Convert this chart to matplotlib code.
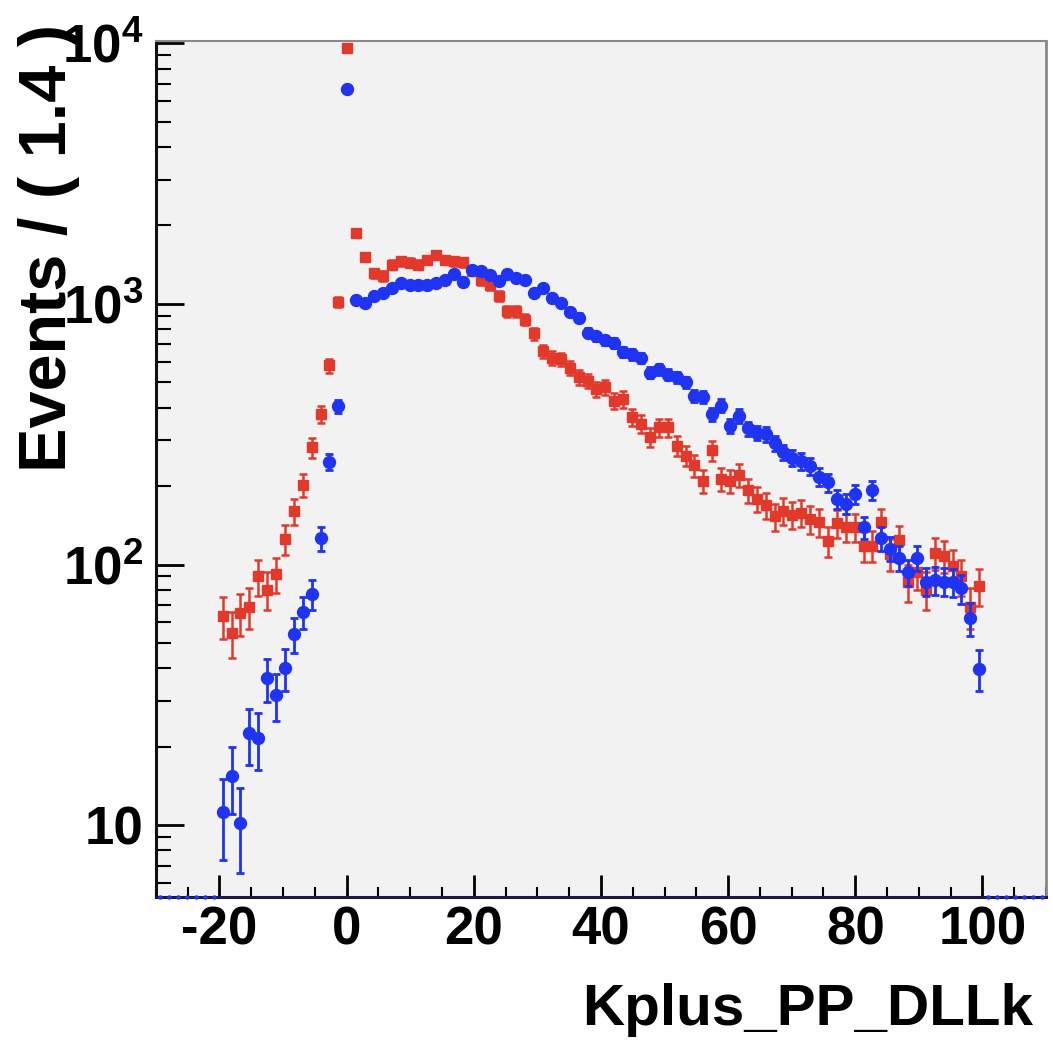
import numpy as np
import matplotlib
matplotlib.use("Agg")
import matplotlib.pyplot as plt
from matplotlib.ticker import FixedLocator, FixedFormatter, LogLocator, NullFormatter, MultipleLocator

plt.rcParams['font.family'] = ['Liberation Sans', 'DejaVu Sans']
plt.rcParams['font.weight'] = 'bold'
plt.rcParams['axes.unicode_minus'] = False
plt.rcParams['mathtext.fontset'] = 'custom'
plt.rcParams['mathtext.rm'] = 'Liberation Sans:bold'
plt.rcParams['mathtext.it'] = 'Liberation Sans:bold'
plt.rcParams['mathtext.bf'] = 'Liberation Sans:bold'

# binning: 100 bins of width 1.4 from -30 to 110
x_lo, x_hi, n_bins = -30.0, 110.0, 100
first_filled_bin = 7

red_counts = [63.5, 54.7, 65, 69, 90, 80, 92, 125, 160, 202, 282, 378, 581, 1018,
              9600, 1866, 1512, 1313, 1282, 1413, 1455, 1440, 1413, 1476, 1542, 1476,
              1455, 1445, 1340, 1238, 1185, 1076, 937, 937, 871, 770, 659, 622, 613,
              570, 522, 507, 471, 478, 425, 431, 367, 346, 309, 336, 336, 286, 262,
              240, 210, 274, 213, 210, 220, 193, 179, 169, 153, 161, 155, 158, 149,
              145, 123, 144, 139, 139, 118, 118, 145, 110, 124, 85.5, 94, 80, 111,
              108, 99, 90, 69, 83]

blue_counts = [11.2, 15.5, 10.2, 22.5, 21.6, 36.6, 31.6, 40, 54, 66, 77, 126, 248, 404,
               6670, 1038, 1009, 1069, 1101, 1151, 1203, 1185, 1185, 1185, 1203, 1238,
               1305, 1212, 1352, 1332, 1294, 1227, 1305, 1257, 1238, 1101, 1151, 1054,
               1009, 931, 885, 775, 752, 724, 710, 655, 640, 622, 545, 561, 535, 522,
               501, 443, 441, 378, 407, 341, 372, 333, 320, 316, 293, 270, 257, 249,
               238, 217, 207, 178, 171, 187, 139, 193, 126, 115, 106, 93.5, 106, 86,
               87, 86, 85.6, 81, 62.4, 39.8]

red_weight = 2.2   # effective event weight used for error bars
blue_weight = 1.3

x_ticks = [-20, 0, 20, 40, 60, 80, 100]
y_ticks = [10, 100, 1000, 10000]
y_tick_labels = ['10', r'$10^{2}$', r'$10^{3}$', r'$10^{4}$']
x_title = 'Kplus_PP_DLLk'
y_title = 'Events / ( 1.4 )'

red_color = '#e3392b'
blue_color = '#1f33f2'

width = (x_hi - x_lo) / n_bins
centers = x_lo + width * (np.arange(n_bins) + 0.5)

red = np.array(red_counts, dtype=float)
blue = np.array(blue_counts, dtype=float)
xr = centers[first_filled_bin:first_filled_bin + len(red)]
xb = centers[first_filled_bin:first_filled_bin + len(blue)]
filled = np.zeros(n_bins, bool)
filled[first_filled_bin:first_filled_bin + len(blue)] = True
x_empty = centers[~filled]

fig = plt.figure(figsize=(10.53, 10.46), dpi=100)
ax = fig.add_axes([0.148, 0.1424, 0.8454, 0.8184])
ax.set_facecolor('#f2f2f2')
ax.set_yscale('log')
ymin, ymax = 5.3, 10200
ax.set_xlim(x_lo, x_hi)
ax.set_ylim(ymin, ymax)

ax.errorbar(xr, red, yerr=np.sqrt(red_weight * red), fmt='s', ms=7.6,
            color=red_color, ecolor=red_color, elinewidth=1.8, capsize=2.6,
            capthick=1.8, zorder=3)
ax.errorbar(xb, blue, yerr=np.sqrt(blue_weight * blue), fmt='o', ms=8.6,
            color=blue_color, ecolor=blue_color, elinewidth=2.0, capsize=2.8,
            capthick=2.0, zorder=4)
ax.plot(x_empty, np.full(len(x_empty), ymin), linestyle='none', marker='o', ms=2.2,
        color=blue_color, clip_on=False, zorder=5)

ax.xaxis.set_major_locator(FixedLocator(x_ticks))
ax.xaxis.set_minor_locator(MultipleLocator(5))
ax.yaxis.set_major_locator(FixedLocator(y_ticks))
ax.yaxis.set_major_formatter(FixedFormatter(y_tick_labels))
ax.yaxis.set_minor_locator(LogLocator(base=10, subs=np.arange(2, 10)))
ax.yaxis.set_minor_formatter(NullFormatter())

ax.tick_params(axis='x', which='major', direction='in', length=16, width=2,
               labelsize=38, pad=6, top=False)
ax.tick_params(axis='x', which='minor', direction='in', length=7, width=1.5, top=False)
ax.tick_params(axis='y', which='major', direction='in', length=20, width=2,
               labelsize=38, pad=9, right=False)
ax.tick_params(axis='y', which='minor', direction='in', length=11, width=1.5, right=False)
for lab in ax.get_xticklabels() + ax.get_yticklabels():
    lab.set_fontweight('bold')

ax.spines['left'].set_linewidth(2.2)
ax.spines['left'].set_color('#111111')
ax.spines['bottom'].set_linewidth(2.2)
ax.spines['bottom'].set_color('#1a1a40')
ax.spines['top'].set_linewidth(1.5)
ax.spines['top'].set_color('#8a8a8a')
ax.spines['right'].set_linewidth(2)
ax.spines['right'].set_color('#8a8a8a')

ax.set_xlabel(x_title, fontsize=42, fontweight='bold', loc='right')
ax.xaxis.set_label_coords(0.985, -0.1)
ax.set_ylabel(y_title, fontsize=48, fontweight='bold', loc='top')
ax.yaxis.set_label_coords(-0.085, 1.02)

fig.savefig('out.png', dpi=100)
